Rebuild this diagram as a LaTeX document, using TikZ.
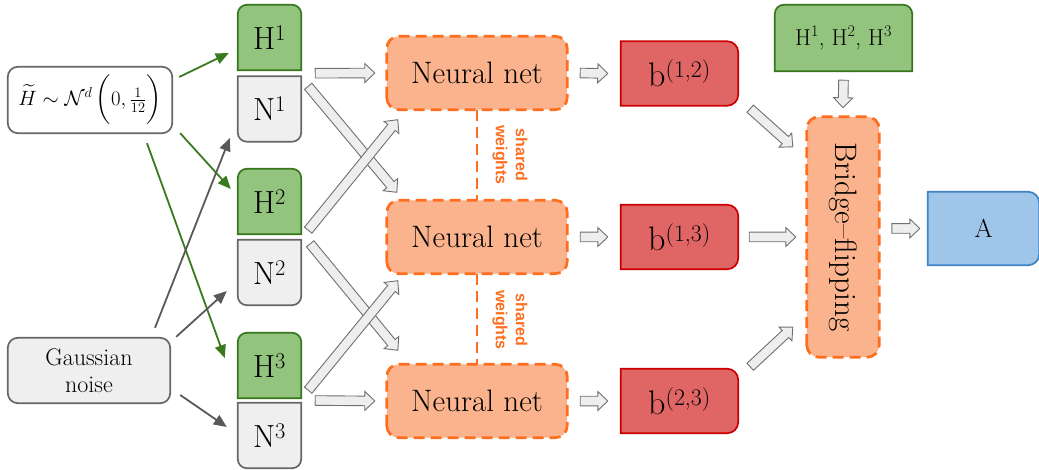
\documentclass[tikz,border=0pt]{standalone}
\usepackage{fontspec}
\usepackage{amsmath}
\newfontfamily\swfont{Liberation Sans}
\usetikzlibrary{calc,arrows.meta,backgrounds}

\definecolor{hfill}{HTML}{93C47D}
\definecolor{hdraw}{HTML}{38761D}
\definecolor{nfill}{HTML}{EFEFEF}
\definecolor{ndraw}{HTML}{666666}
\definecolor{netfill}{HTML}{FBB38D}
\definecolor{netdraw}{HTML}{FF6D1F}
\definecolor{bfill}{HTML}{E06666}
\definecolor{bdraw}{HTML}{CC0000}
\definecolor{afill}{HTML}{9FC5E8}
\definecolor{adraw}{HTML}{3D85C6}
\definecolor{arrfill}{HTML}{EEEEEE}
\definecolor{arrdraw}{HTML}{707070}
\definecolor{garr}{HTML}{3A7A1E}
\definecolor{karr}{HTML}{595959}

% outlines drawn behind named nodes
\newcommand\topround[3][9pt]{%
  \path[#3] (#2.south west) -- ([yshift=-#1]#2.north west)
    arc[start angle=180,end angle=90,radius=#1] -- ([xshift=-#1]#2.north east)
    arc[start angle=90,end angle=0,radius=#1] -- (#2.south east) -- cycle;}
\newcommand\botround[3][9pt]{%
  \path[#3] (#2.north west) -- ([yshift=#1]#2.south west)
    arc[start angle=180,end angle=270,radius=#1] -- ([xshift=-#1]#2.south east)
    arc[start angle=270,end angle=360,radius=#1] -- (#2.north east) -- cycle;}
\newcommand\rightround[3][11pt]{%
  \path[#3] (#2.south west) -- (#2.north west) -- ([xshift=-#1]#2.north east)
    arc[start angle=90,end angle=0,radius=#1] -- ([yshift=#1]#2.south east)
    arc[start angle=0,end angle=-90,radius=#1] -- cycle;}
\newcommand\allround[3][11pt]{%
  \path[#3,rounded corners=#1] (#2.south west) rectangle (#2.north east);}

% wide outlined arrow between two points
\newcommand\barrow[2]{%
  \coordinate (ba) at #1; \coordinate (bb) at #2;
  \coordinate (bc) at ($(bb)!10pt!(ba)$);
  \path[blk] ($(ba)!4.8pt!90:(bb)$) -- ($(bc)!4.8pt!90:(bb)$)
    -- ($(bc)!9.5pt!90:(bb)$) -- (bb) -- ($(bc)!9.5pt!-90:(bb)$)
    -- ($(bc)!4.8pt!-90:(bb)$) -- ($(ba)!4.8pt!-90:(bb)$) -- cycle;}

\tikzset{
  lbl/.style={inner sep=0pt, align=center},
  sz/.style 2 args={minimum width=#1pt, minimum height=#2pt},
  hstyle/.style={fill=hfill, draw=hdraw, line width=1.7pt},
  nstyle/.style={fill=nfill, draw=ndraw, line width=1.7pt},
  wstyle/.style={fill=white, draw=ndraw, line width=1.7pt},
  netstyle/.style={fill=netfill, draw=netdraw, line width=2.7pt, dash pattern=on 11pt off 6pt},
  bstyle/.style={fill=bfill, draw=bdraw, line width=1.7pt},
  astyle/.style={fill=afill, draw=adraw, line width=1.7pt},
  blk/.style={fill=arrfill, draw=arrdraw, line width=0.9pt, line join=miter},
  thin/.style={line width=1.8pt, -{Triangle[length=13pt,width=11pt]}},
  garrow/.style={thin, draw=garr, fill=garr},
  karrow/.style={thin, draw=karr, fill=karr},
  swline/.style={draw=netdraw, line width=2.7pt, dash pattern=on 11pt off 6pt},
  swtext/.style={lbl, text=netdraw, font=\swfont\bfseries\fontsize{16}{20}\selectfont, rotate=-90},
}

\begin{document}
\begin{tikzpicture}[x=1pt, y=-1pt]
\useasboundingbox (0,0) rectangle (1039,470);

% sources
\node[lbl, sz={164}{66}] (ht) at (90,100)
  {\fontsize{21}{25}\selectfont$\widetilde{H}\sim\mathcal{N}^d\,\biggl(0,\frac{1}{12}\biggr)$};
\node[lbl, sz={162}{65}, font=\fontsize{24}{27}\selectfont] (gn) at (89,370.5) {Gaussian\\noise};

% pairs of inputs
\begin{scope}[every node/.style={lbl, sz={63}{65}, font=\fontsize{32}{34}\selectfont}]
\node (H1) at (269.5,37.5) {H\textsuperscript{1}};
\node (N1) at (269.5,109) {N\textsuperscript{1}};
\node (H2) at (269.5,201.5) {H\textsuperscript{2}};
\node (N2) at (269.5,272.5) {N\textsuperscript{2}};
\node (H3) at (269.5,365.5) {H\textsuperscript{3}};
\node (N3) at (269.5,435.5) {N\textsuperscript{3}};
\end{scope}

% networks
\begin{scope}[every node/.style={lbl, sz={180}{73}, font=\fontsize{31}{33}\selectfont}]
\node (nn1) at (477,73) {Neural net};
\node (nn2) at (477,237) {Neural net};
\node (nn3) at (477,401) {Neural net};
\end{scope}

% bridge scores
\begin{scope}[every node/.style={lbl, sz={117}{64}, font=\fontsize{34}{36}\selectfont}]
\node (b12) at (679.5,73.5) {b\textsuperscript{(1,2)}};
\node (b13) at (679.5,237) {b\textsuperscript{(1,3)}};
\node (b23) at (679.5,401) {b\textsuperscript{(2,3)}};
\end{scope}

\node[lbl, sz={137}{66}, font=\fontsize{23}{26}\selectfont] (hall) at (843.5,38)
  {H\textsuperscript{1}, H\textsuperscript{2}, H\textsuperscript{3}};
\node[lbl, sz={72}{240}] (bf) at (843,237) {};
\node[lbl, rotate=-90, font=\fontsize{31}{33}\selectfont] (bft) at (bf.center) {Bridge--flipping};
\node[lbl, sz={111}{73}, font=\fontsize{26}{28}\selectfont] (A) at (983.5,228.5) {A};

% shared weights
\node[swtext] (sw1) at (510,155) {shared\\weights};
\node[swtext] (sw2) at (510,320) {shared\\weights};

\begin{scope}[on background layer]
  \allround[10pt]{ht}{wstyle}
  \allround[10pt]{gn}{nstyle}
  \topround{H1}{hstyle} \botround{N1}{nstyle}
  \topround{H2}{hstyle} \botround{N2}{nstyle}
  \topround{H3}{hstyle} \botround{N3}{nstyle}
  \draw[swline] (nn1.south) -- (nn2.north);
  \draw[swline] (nn2.south) -- (nn3.north);
  \allround[12pt]{nn1}{netstyle}
  \allround[12pt]{nn2}{netstyle}
  \allround[12pt]{nn3}{netstyle}
  \rightround{b12}{bstyle}
  \rightround{b13}{bstyle}
  \rightround{b23}{bstyle}
  \topround{hall}{hstyle}
  \allround[12pt]{bf}{netstyle}
  \rightround{A}{astyle}
\end{scope}

% noise and target sampling
\draw[garrow] ($(ht.east)+(7,-23)$) -- ($(H1.west)+(-9,15.5)$);
\draw[garrow] ($(ht.south east)+(8,0)$) -- ($(H2.west)+(-7,-12.5)$);
\draw[garrow] ($(ht.south)+(57,10)$) -- ($(H3.west)+(-13,-7.5)$);
\draw[karrow] ($(gn.north)+(66,-10)$) -- ($(N1.west)+(-8,29)$);
\draw[karrow] ($(gn.north east)+(6,-1)$) -- ($(N2.west)+(-11,18.5)$);
\draw[karrow] ($(gn.east)+(10,24.5)$) -- ($(N3.west)+(-11,-8.5)$);

% inputs to networks
\barrow{($($(H1.south east)!.5!(N1.north east)$)+(14,0)$)}{($(nn1.west)+(-12,0)$)}
\barrow{($(N1.north east)+(7,10)$)}{($(nn2.north west)+(10,-8)$)}
\barrow{($(H2.south east)+(7,-4)$)}{($(nn1.south west)+(11,10)$)}
\barrow{($(N2.north east)+(9,4)$)}{($(nn3.north west)+(11,-14)$)}
\barrow{($(H3.south east)+(7,-8)$)}{($(nn2.south west)+(11,7)$)}
\barrow{($($(H3.south east)!.5!(N3.north east)$)+(14,0)$)}{($(nn3.west)+(-12,0)$)}

% networks to scores
\barrow{($(nn1.east)+(13,0)$)}{($(b12.west)+(-13,0)$)}
\barrow{($(nn2.east)+(13,0)$)}{($(b13.west)+(-13,0)$)}
\barrow{($(nn3.east)+(13,0)$)}{($(b23.west)+(-13,0)$)}

% scores to bridge-flipping
\barrow{($(b12.south east)+(12,3)$)}{($(bf.north west)+(-14,30)$)}
\barrow{($(b13.east)+(11,0)$)}{($(bf.west)+(-11,0)$)}
\barrow{($(b23.north east)+(12,-2)$)}{($(bf.south west)+(-14,-30)$)}
\barrow{($(hall.south)+(0,9)$)}{($(bf.north)+(0,-9)$)}
\barrow{($(A.west)+(-36,0)$)}{($(A.west)+(-8,0)$)}
\end{tikzpicture}
\end{document}
